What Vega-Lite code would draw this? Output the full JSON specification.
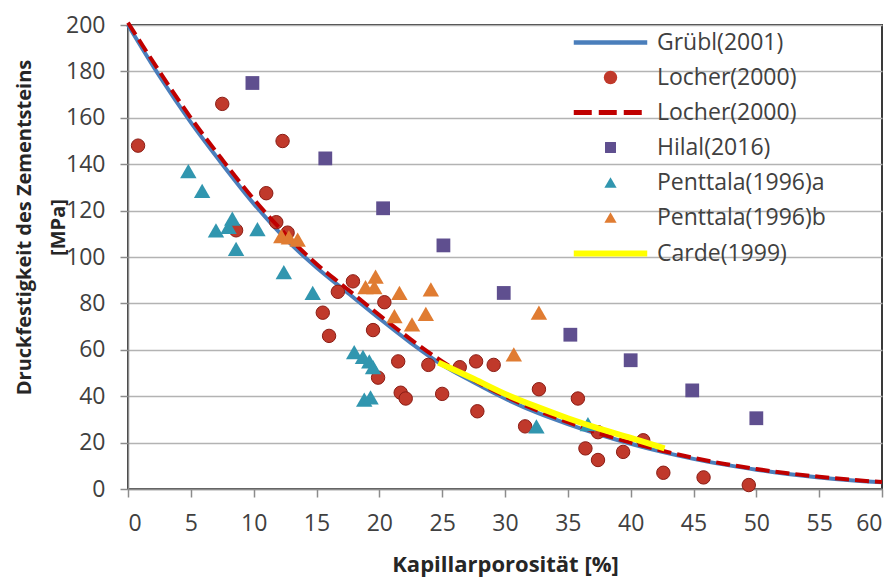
{
  "$schema": "https://vega.github.io/schema/vega-lite/v6.json",
  "width": 754,
  "height": 464,
  "autosize": "none",
  "padding": {"left": 128, "top": 25, "right": 13, "bottom": 88},
  "background": "white",
  "config": {"view": {"stroke": "#3a3a3a", "strokeWidth": 2}, "font": "Open Sans"},
  "data": {"values": [
    {"s":"G","x":0,"y":200},{"s":"G","x":2.5,"y":178},{"s":"G","x":5,"y":158},{"s":"G","x":7.5,"y":140},{"s":"G","x":10,"y":123},{"s":"G","x":12.5,"y":108},{"s":"G","x":15,"y":95.5},{"s":"G","x":17.5,"y":84.5},{"s":"G","x":20,"y":73.5},{"s":"G","x":22.5,"y":63},{"s":"G","x":25,"y":53.5},{"s":"G","x":27.5,"y":46},{"s":"G","x":30,"y":39},{"s":"G","x":32.5,"y":33},{"s":"G","x":35,"y":28},{"s":"G","x":37.5,"y":23.5},{"s":"G","x":40,"y":19.5},{"s":"G","x":42.5,"y":16},{"s":"G","x":45,"y":13},{"s":"G","x":47.5,"y":10.5},{"s":"G","x":50,"y":8.3},{"s":"G","x":52.5,"y":6.5},{"s":"G","x":55,"y":5},{"s":"G","x":57.5,"y":3.8},{"s":"G","x":60,"y":2.9},
    {"s":"LF","x":0,"y":201},{"s":"LF","x":2.5,"y":180},{"s":"LF","x":5,"y":160},{"s":"LF","x":7.5,"y":142},{"s":"LF","x":10,"y":125},{"s":"LF","x":12.5,"y":110},{"s":"LF","x":15,"y":97},{"s":"LF","x":17.5,"y":86},{"s":"LF","x":20,"y":75},{"s":"LF","x":22.5,"y":64.5},{"s":"LF","x":25,"y":55},{"s":"LF","x":27.5,"y":47},{"s":"LF","x":30,"y":40},{"s":"LF","x":32.5,"y":34},{"s":"LF","x":35,"y":28.8},{"s":"LF","x":37.5,"y":24},{"s":"LF","x":40,"y":20},{"s":"LF","x":42.5,"y":16.5},{"s":"LF","x":45,"y":13.4},{"s":"LF","x":47.5,"y":10.8},{"s":"LF","x":50,"y":8.6},{"s":"LF","x":52.5,"y":6.8},{"s":"LF","x":55,"y":5.3},{"s":"LF","x":57.5,"y":4},{"s":"LF","x":60,"y":3},
    {"s":"C","x":24.7,"y":54.5},{"s":"C","x":27.5,"y":47.5},{"s":"C","x":30,"y":41},{"s":"C","x":32.5,"y":35.5},{"s":"C","x":35,"y":30.5},{"s":"C","x":37.5,"y":26},{"s":"C","x":40,"y":22},{"s":"C","x":42.7,"y":17.5},
    {"s":"L","x":0.8,"y":148},{"s":"L","x":7.5,"y":166},{"s":"L","x":8.6,"y":111.5},{"s":"L","x":11,"y":127.5},{"s":"L","x":11.8,"y":115},{"s":"L","x":12.3,"y":150},{"s":"L","x":12.7,"y":110.5},{"s":"L","x":15.5,"y":76},{"s":"L","x":16,"y":66},{"s":"L","x":16.7,"y":85},{"s":"L","x":17.9,"y":89.5},{"s":"L","x":19.5,"y":68.5},{"s":"L","x":19.9,"y":48},{"s":"L","x":20.4,"y":80.5},{"s":"L","x":21.5,"y":55},{"s":"L","x":21.7,"y":41.5},{"s":"L","x":22.1,"y":39},{"s":"L","x":23.9,"y":53.5},{"s":"L","x":25,"y":41},{"s":"L","x":26.4,"y":52.5},{"s":"L","x":27.7,"y":55},{"s":"L","x":27.8,"y":33.5},{"s":"L","x":29.1,"y":53.5},{"s":"L","x":31.6,"y":27},{"s":"L","x":32.7,"y":43},{"s":"L","x":35.8,"y":39},{"s":"L","x":36.4,"y":17.5},{"s":"L","x":37.4,"y":24.5},{"s":"L","x":37.4,"y":12.5},{"s":"L","x":39.4,"y":16},{"s":"L","x":41,"y":21},{"s":"L","x":42.6,"y":7},{"s":"L","x":45.8,"y":5},{"s":"L","x":49.4,"y":1.7},
    {"s":"H","x":9.9,"y":175},{"s":"H","x":15.7,"y":142.5},{"s":"H","x":20.3,"y":121},{"s":"H","x":25.1,"y":105},{"s":"H","x":29.9,"y":84.5},{"s":"H","x":35.2,"y":66.5},{"s":"H","x":40,"y":55.5},{"s":"H","x":44.9,"y":42.5},{"s":"H","x":50,"y":30.5},
    {"s":"PA","x":4.8,"y":137},{"s":"PA","x":5.9,"y":128.5},{"s":"PA","x":7,"y":111.5},{"s":"PA","x":8,"y":113},{"s":"PA","x":8.3,"y":116.5},{"s":"PA","x":8.6,"y":103.5},{"s":"PA","x":10.3,"y":112},{"s":"PA","x":12.4,"y":93.5},{"s":"PA","x":14.7,"y":84.5},{"s":"PA","x":18,"y":59},{"s":"PA","x":18.7,"y":57},{"s":"PA","x":19.2,"y":55},{"s":"PA","x":19.5,"y":52.5},{"s":"PA","x":18.8,"y":38.5},{"s":"PA","x":19.3,"y":39.5},{"s":"PA","x":32.5,"y":27},{"s":"PA","x":36.6,"y":28},
    {"s":"PB","x":12.2,"y":109},{"s":"PB","x":12.8,"y":108.5},{"s":"PB","x":13.5,"y":107.5},{"s":"PB","x":18.9,"y":87},{"s":"PB","x":19.6,"y":87},{"s":"PB","x":19.7,"y":91.5},{"s":"PB","x":21.2,"y":74.5},{"s":"PB","x":21.6,"y":84.5},{"s":"PB","x":22.6,"y":71},{"s":"PB","x":23.7,"y":75.5},{"s":"PB","x":24.1,"y":86},{"s":"PB","x":30.7,"y":58},{"s":"PB","x":32.7,"y":76}
  ]},
  "encoding": {
    "x": {"field": "x", "type": "quantitative",
      "scale": {"domain": [0, 60], "nice": false, "zero": false},
      "axis": {"values": [0,5,10,15,20,25,30,35,40,45,50,55,60], "title": "Kapillarporosität [%]", "grid": false,
        "domainColor": "#8c8c8c", "domainWidth": 1.5, "tickColor": "#8c8c8c", "tickWidth": 1.5, "tickSize": 8,
        "labelFont": "Open Sans", "labelFontSize": 23, "labelColor": "#404040", "labelPadding": 15,
        "titleFont": "Open Sans", "titleFontSize": 22, "titleFontWeight": "bold", "titleColor": "#262626",
        "titleBaseline": "alphabetic", "titleY": 82}},
    "y": {"field": "y", "type": "quantitative",
      "scale": {"domain": [0, 200], "nice": false, "zero": false},
      "axis": {"values": [0,20,40,60,80,100,120,140,160,180,200], "title": ["Druckfestigkeit des Zementsteins", "[MPa]"],
        "grid": true, "gridColor": "#b3b3b3", "gridWidth": 1.5,
        "domainColor": "#8c8c8c", "domainWidth": 1.5, "tickColor": "#8c8c8c", "tickWidth": 1.5, "tickSize": 8,
        "labelFont": "Open Sans", "labelFontSize": 23, "labelColor": "#404040", "labelPadding": 15,
        "titleFont": "Open Sans", "titleFontSize": 20, "titleFontWeight": "bold", "titleColor": "#262626",
        "titleBaseline": "alphabetic", "titleAlign": "center", "titleX": -98, "titleY": 202, "titleLineHeight": 34}},
    "color": {"field": "s", "type": "nominal",
      "scale": {"domain": ["G","L","LF","H","PA","PB","C"], "range": ["#4A7EBB","#C0392B","#C00000","#5F4F8F","#3196AF","#E07C32","#FFFF00"]},
      "legend": {"orient": "none", "legendX": 471, "legendY": 6, "title": null, "padding": 0,
        "symbolSize": 150, "labelFont": "Open Sans", "labelFontSize": 23, "labelColor": "#404040",
        "labelOffset": 35, "rowPadding": 11, "labelLimit": 400,
        "labelExpr": "datum.value==='G' ? 'Grübl(2001)' : (datum.value==='L' || datum.value==='LF') ? 'Locher(2000)' : datum.value==='H' ? 'Hilal(2016)' : datum.value==='PA' ? 'Penttala(1996)a' : datum.value==='PB' ? 'Penttala(1996)b' : 'Carde(1999)'",
        "encode": {"symbols": {"update": {
          "shape": {"signal": "datum.value==='L' ? 'circle' : datum.value==='H' ? 'square' : (datum.value==='PA' || datum.value==='PB') ? 'triangle-up' : 'M-6,0H6'"},
          "size": {"signal": "datum.value==='L' ? 180 : datum.value==='H' ? 120 : 150"},
          "fill": {"signal": "(datum.value==='G' || datum.value==='LF' || datum.value==='C') ? 'transparent' : scale('color', datum.value)"},
          "stroke": {"signal": "(datum.value==='G' || datum.value==='LF' || datum.value==='C') ? scale('color', datum.value) : 'transparent'"},
          "strokeWidth": {"signal": "datum.value==='C' ? 6 : datum.value==='G' ? 4.5 : datum.value==='LF' ? 5 : 0"},
          "strokeDash": {"signal": "datum.value==='LF' ? [18,7] : [1,0]"},
          "opacity": {"value": 1}
        }}}}
    }
  },
  "layer": [
    {"transform": [{"filter": "datum.s==='G'"}], "mark": {"type": "line", "strokeWidth": 4, "interpolate": "monotone"}},
    {"transform": [{"filter": "datum.s==='L'"}], "mark": {"type": "point", "filled": true, "shape": "circle", "size": 180, "stroke": "#8a1c14", "strokeWidth": 1, "opacity": 1}},
    {"transform": [{"filter": "datum.s==='LF'"}], "mark": {"type": "line", "strokeWidth": 4, "strokeDash": [14, 6], "interpolate": "monotone"}},
    {"transform": [{"filter": "datum.s==='H'"}], "mark": {"type": "point", "filled": true, "shape": "square", "size": 190, "opacity": 1}},
    {"transform": [{"filter": "datum.s==='PA' || datum.s==='PB'"}], "mark": {"type": "point", "filled": true, "shape": "triangle-up", "size": 270, "opacity": 1}},
    {"transform": [{"filter": "datum.s==='C'"}], "mark": {"type": "line", "strokeWidth": 6, "interpolate": "monotone"}}
  ]
}
